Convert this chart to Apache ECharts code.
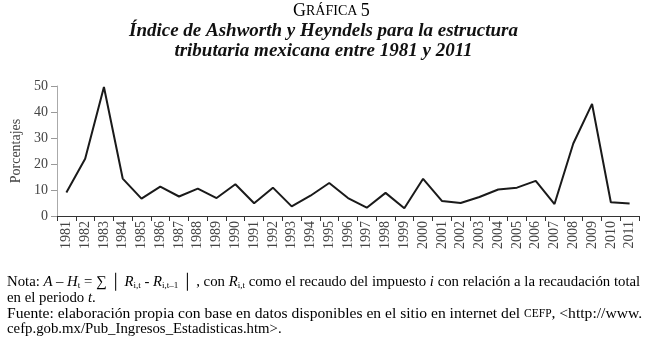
<!DOCTYPE html>
<html><head><meta charset="utf-8">
<script src="https://cdn.jsdelivr.net/npm/echarts@6/dist/echarts.min.js"></script>
<style>html,body{margin:0;padding:0;background:#fff}#c{width:647px;height:344px}</style>
</head><body><div id="c"></div>
<script>
var years = ['1981','1982','1983','1984','1985','1986','1987','1988','1989','1990','1991','1992','1993','1994','1995','1996','1997','1998','1999','2000','2001','2002','2003','2004','2005','2006','2007','2008','2009','2010','2011'];
var values = [9.0,22.0,49.6,14.4,6.7,11.3,7.5,10.5,6.9,12.2,4.9,10.9,3.7,7.8,12.7,6.9,3.2,8.9,3.0,14.3,5.8,5.0,7.3,10.2,10.9,13.5,4.6,27.9,43.1,5.3,4.8];
var yTicks = [0,10,20,30,40,50];

var serif = '"Liberation Serif","DejaVu Serif",serif';
var chart = echarts.init(document.getElementById('c'), null, {renderer:'canvas'});
var fs = 14.8;
var fs3 = 15.6;
var base = {fontFamily: serif, fontSize: fs, color: '#111'};
var base3 = {fontFamily: serif, fontSize: fs3, color: '#111'};
var sub = {fontFamily: serif, fontSize: 9, color: '#111', verticalAlign: 'bottom', padding:[5,0,0,0]};
var it = {fontFamily: serif, fontSize: fs, fontStyle: 'italic', color: '#111'};
var link = {fontFamily: serif, fontSize: fs, color: '#1c3cc8'};
var link3 = {fontFamily: serif, fontSize: fs3, color: '#1c3cc8'};

chart.setOption({
  animation: false,
  grid: {left: 57, right: 8, top: 86, bottom: 128, containLabel: false},
  xAxis: {
    type: 'category', data: years, boundaryGap: true,
    axisLine: {lineStyle: {color: '#333', width: 1}},
    axisTick: {show: true, length: 5, lineStyle: {color: '#333'}, interval: 0},
    axisLabel: {rotate: 90, interval: 0, fontFamily: serif, fontSize: 14, color: '#444', margin: 5}
  },
  yAxis: {
    type: 'value', min: 0, max: 50, interval: 10,
    name: 'Porcentajes', nameLocation: 'middle', nameGap: 28, nameRotate: 90,
    nameTextStyle: {fontFamily: serif, fontSize: 14, color: '#444'},
    axisLine: {show: true, lineStyle: {color: '#aaa'}},
    axisTick: {show: true, length: 6, lineStyle: {color: '#999'}},
    splitLine: {show: false},
    axisLabel: {fontFamily: serif, fontSize: 14, color: '#444', margin: 9,
      formatter: function(v){ return yTicks.indexOf(v) >= 0 ? String(v) : ''; }}
  },
  series: [{
    type: 'line', data: values, symbol: 'none',
    lineStyle: {color: '#1a1a1a', width: 2}
  }],
  graphic: [
    {type:'text', left: 293, top: 2, style:{
      text:'{a|G}{b|RÁFICA} {a|5}',
      rich:{a:{fontFamily:serif,fontSize:18,color:'#111'}, b:{fontFamily:serif,fontSize:14,color:'#111'}}
    }},
    {type:'text', left:'center', top: 22, style:{
      text:'Índice de Ashworth y Heyndels para la estructura',
      font:'italic bold 19px ' + serif, fill:'#111'
    }},
    {type:'text', left:'center', top: 42, style:{
      text:'tributaria mexicana entre 1981 y 2011',
      font:'italic bold 19px ' + serif, fill:'#111'
    }},
    {type:'text', left: 7, top: 275, style:{
      text:'{n|Nota: }{i|A} {n|– }{i|H}{s|t}{n| = ∑ │ }{i|R}{s|i,t}{n| - }{i|R}{s|i,t–1}{n| │ , con }{i|R}{s|i,t}{n| como el recaudo del impuesto }{i|i}{n| con relación a la recaudación total}',
      rich:{n:base, i:it, s:sub}
    }},
    {type:'text', left: 7, top: 291, style:{
      text:'{n|en el periodo }{i|t}{n|.}', rich:{n:base, i:it}
    }},
    {type:'text', left: 7, top: 306, style:{
      text:'{n|Fuente: elaboración propia con base en datos disponibles en el sitio en internet del }{sc|CEFP}{n|, <}{l|http://www.}',
      rich:{n:base3, l:link3, sc:{fontFamily:serif,fontSize:11.5,color:'#111'}}
    }},
    {type:'text', left: 7, top: 322, style:{
      text:'{l|cefp.gob.mx/Pub_Ingresos_Estadisticas.htm}{n|>.}', rich:{n:base, l:link}
    }}
  ]
});
</script></body></html>
